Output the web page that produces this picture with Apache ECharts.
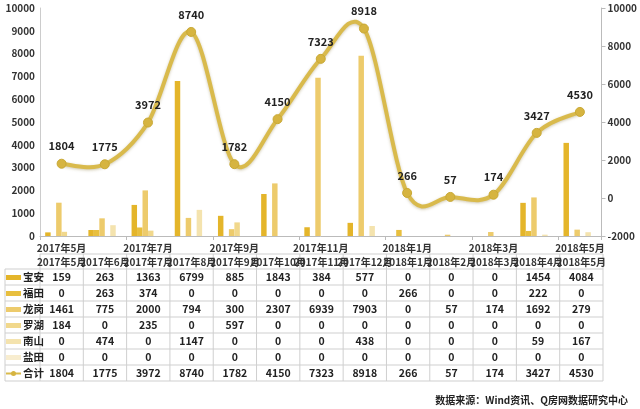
<!DOCTYPE html>
<html>
<head>
<meta charset="utf-8">
<script src="https://cdn.jsdelivr.net/npm/echarts@6/dist/echarts.min.js"></script>
<style>
html,body{margin:0;padding:0;background:#fff;}
#c{width:640px;height:409px;}
</style>
</head>
<body>
<div id="c"></div>
<script>
var categories = ['2017年5月','2017年6月','2017年7月','2017年8月','2017年9月','2017年10月','2017年11月','2017年12月','2018年1月','2018年2月','2018年3月','2018年4月','2018年5月'];
var seriesNames = ['宝安','福田','龙岗','罗湖','南山','盐田'];
var baoan    = [159,263,1363,6799,885,1843,384,577,0,0,0,1454,4084];
var futian   = [0,263,374,0,0,0,0,0,266,0,0,222,0];
var longgang = [1461,775,2000,794,300,2307,6939,7903,0,57,174,1692,279];
var luohu    = [184,0,235,0,597,0,0,0,0,0,0,0,0];
var nanshan  = [0,474,0,1147,0,0,0,438,0,0,0,59,167];
var yantian  = [0,0,0,0,0,0,0,0,0,0,0,0,0];
var total    = [1804,1775,3972,8740,1782,4150,7323,8918,266,57,174,3427,4530];
var totalName = '合计';
var sourceText = '数据来源：Wind资讯、Q房网数据研究中心';

var barData = [baoan, futian, longgang, luohu, nanshan, yantian];
var barColors = ['#E4B52A','#E8BF3E','#EDCB6C','#F1D88C','#F4E3AE','#F8EDCF'];
var lineColor = '#D9BA4C';

var FONT = '"Noto Sans CJK SC", "Noto Sans", sans-serif';
var gridLeft = 40, gridRight = 37, gridTop = 8, gridBottom = 173;
var W = 640;
var gridW = W - gridLeft - gridRight;
var colW = gridW / categories.length;

var chart = echarts.init(document.getElementById('c'), null, {renderer:'canvas'});

var series = barData.map(function(d, i){
  return {
    name: seriesNames[i], type:'bar', data:d, yAxisIndex:0,
    barGap:'0%', barCategoryGap:'24%',
    itemStyle:{color:barColors[i]}
  };
});

// Catmull-Rom style smoothed curve (like spreadsheet smoothing), drawn via the axes' scales
series.push({
  name: totalName + '曲线', type:'custom', yAxisIndex:1,
  data: total.map(function(v, i){ return [i, v]; }),
  z:4, silent:true,
  renderItem: function(params, api){
    if (params.dataIndex !== 0) return;
    var pts = total.map(function(v, i){ return api.coord([i, v]); });
    var n = pts.length;
    var d = 'M' + pts[0][0] + ' ' + pts[0][1];
    for (var i = 0; i < n - 1; i++){
      var p0 = pts[Math.max(i-1,0)], p1 = pts[i], p2 = pts[i+1], p3 = pts[Math.min(i+2,n-1)];
      var c1x = p1[0] + (p2[0]-p0[0])/6, c1y = p1[1] + (p2[1]-p0[1])/6;
      var c2x = p2[0] - (p3[0]-p1[0])/6, c2y = p2[1] - (p3[1]-p1[1])/6;
      d += ' C' + c1x + ' ' + c1y + ' ' + c2x + ' ' + c2y + ' ' + p2[0] + ' ' + p2[1];
    }
    return {
      type:'path', shape:{pathData:d},
      style:{fill:null, stroke:lineColor, lineWidth:4, shadowColor:'rgba(120,100,30,0.35)', shadowBlur:3, shadowOffsetY:1}
    };
  }
});

series.push({
  name: totalName, type:'line', yAxisIndex:1, data: total,
  symbol:'circle', symbolSize:9,
  lineStyle:{width:0, opacity:0},
  itemStyle:{color:'#D6B440', borderColor:'#C9A935', borderWidth:1},
  label:{show:true, position:'top', distance:7, color:'#222', fontSize:11, fontWeight:'bold', fontFamily:FONT},
  z:5
});

// table graphics
var g = [];
var lineCol = '#cfcfcf';
var tTop = 254, hdrH = 15, rowH = 16;
var rowsTop = tTop + hdrH;
var nRows = 7;
var tBottom = rowsTop + nRows*rowH;
var right = gridLeft + gridW;
g.push({type:'line', shape:{x1:gridLeft,y1:tTop,x2:right,y2:tTop}, style:{stroke:lineCol,lineWidth:1}});
for (var r=0; r<=nRows; r++){
  var y = rowsTop + r*rowH;
  g.push({type:'line', shape:{x1:5,y1:y,x2:right,y2:y}, style:{stroke:lineCol,lineWidth:1}});
}
g.push({type:'line', shape:{x1:5,y1:rowsTop,x2:5,y2:tBottom}, style:{stroke:lineCol,lineWidth:1}});
for (var k=0; k<=categories.length; k++){
  var x = gridLeft + k*colW;
  g.push({type:'line', shape:{x1:x,y1:tTop,x2:x,y2:tBottom}, style:{stroke:lineCol,lineWidth:1}});
}
categories.forEach(function(c, i){
  g.push({type:'text', x: gridLeft + (i+0.5)*colW, y: tTop + hdrH/2 + 0.5,
    style:{text:c, fontSize:10, fontWeight:'bold', fill:'#333', align:'center', verticalAlign:'middle', fontFamily:FONT}});
});
var allRows = barData.concat([total]);
var allNames = seriesNames.concat([totalName]);
allRows.forEach(function(row, r){
  var cy = rowsTop + r*rowH + rowH/2 + 0.5;
  if (r < barData.length){
    g.push({type:'rect', shape:{x:6,y:cy-2.5,width:15,height:5}, style:{fill:barColors[r]}});
  } else {
    g.push({type:'line', shape:{x1:6,y1:cy,x2:21,y2:cy}, style:{stroke:lineColor,lineWidth:2}});
    g.push({type:'circle', shape:{cx:13.5,cy:cy,r:2.5}, style:{fill:'#D6B440'}});
  }
  g.push({type:'text', x:23, y:cy, style:{text:allNames[r], fontSize:10.5, fontWeight:'bold', fill:'#222', align:'left', verticalAlign:'middle', fontFamily:FONT}});
  row.forEach(function(v, i){
    g.push({type:'text', x: gridLeft + (i+0.5)*colW, y: cy,
      style:{text:String(v), fontSize:10.5, fontWeight:'bold', fill:'#222', align:'center', verticalAlign:'middle', fontFamily:FONT}});
  });
});
g.push({type:'text', x:628, y:400, style:{text:sourceText, fontSize:10, fontWeight:'bold', fill:'#222', align:'right', verticalAlign:'middle', fontFamily:FONT}});

var plain = function(v){ return String(v); };
var option = {
  animation:false,
  backgroundColor:'#fff',
  textStyle:{fontFamily:FONT},
  grid:{left:gridLeft, right:gridRight, top:gridTop, bottom:gridBottom, containLabel:false},
  xAxis:{
    type:'category', data:categories,
    axisLine:{show:true, lineStyle:{color:'#bbb'}},
    axisTick:{show:true, interval:1, length:4, lineStyle:{color:'#bbb'}},
    axisLabel:{interval:1, fontSize:10, fontWeight:'bold', color:'#333', margin:7}
  },
  yAxis:[
    {type:'value', min:0, max:10000, interval:1000, position:'left',
     axisLine:{show:true, lineStyle:{color:'#ccc'}}, axisTick:{show:false},
     splitLine:{show:false},
     axisLabel:{fontSize:10, fontWeight:'bold', color:'#333', margin:5, formatter:plain}},
    {type:'value', min:-2000, max:10000, interval:2000, position:'right',
     axisLine:{show:true, lineStyle:{color:'#bbb'}}, axisTick:{show:true, length:4, lineStyle:{color:'#bbb'}},
     splitLine:{show:false},
     axisLabel:{fontSize:10, fontWeight:'bold', color:'#333', margin:6, formatter:plain}}
  ],
  series: series,
  graphic: g
};
chart.setOption(option);
</script>
</body>
</html>
